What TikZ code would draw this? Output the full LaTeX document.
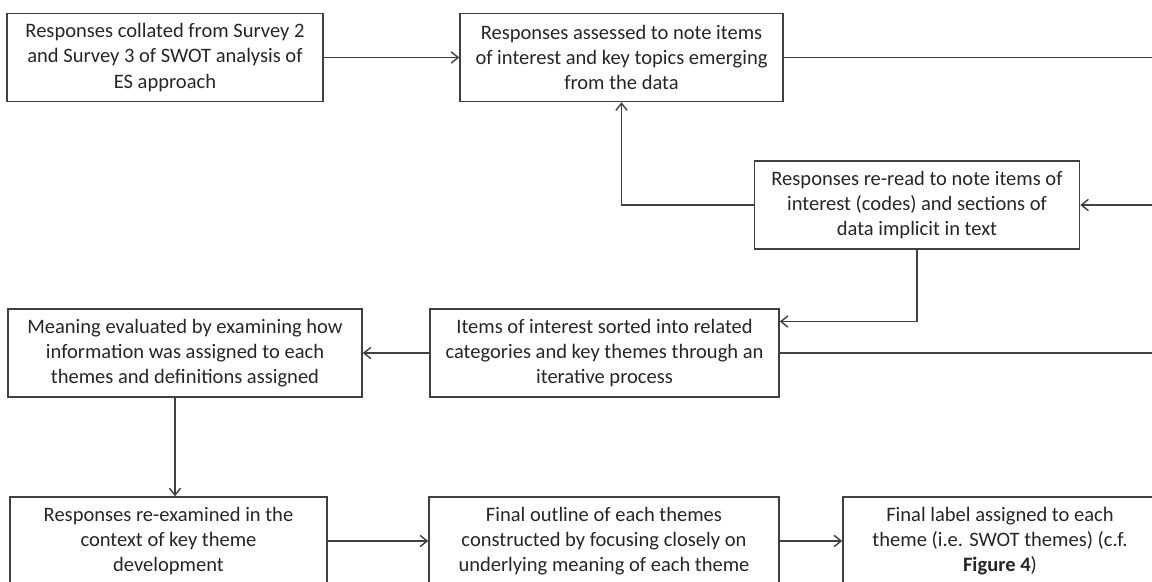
\documentclass[tikz,border=0pt]{standalone}
\usepackage{fontspec}
\setmainfont{Carlito}
\usepackage{tikz}
\usetikzlibrary{arrows.meta}

\begin{document}
\begin{tikzpicture}[
    x=0.025cm, y=-0.025cm,
    box/.style={
        draw=black!75,
        line width=1pt,
        align=center,
        inner sep=2pt,
        minimum height=2.2cm,
        text=black!85,
        font=\fontsize{14.6}{17.8}\selectfont
    },
    link/.style={
        draw=black!75,
        line width=1pt
    },
    arrow/.style={
        link,
        -{Straight Barb[length=5pt,width=8pt]}
    }
]
\useasboundingbox (0,0) rectangle (1152,581);
\clip (0,0) rectangle (1152,581);

% top row
\node[box, minimum width=7.9cm] (resp) at (165,57.5)
{Responses collated from Survey 2\\and Survey 3 of SWOT analysis of\\ES approach};

\node[box, minimum width=8.075cm] (assess) at (621.5,57.5)
{Responses assessed to note items\\of interest and key topics emerging\\from the data};

% re-reading
\node[box, minimum width=8.125cm] (reread) at (917,205)
{Responses re-read to note items of\\interest (codes) and sections of\\data implicit in text};

% middle row
\node[box, minimum width=8.85cm] (meaning) at (185,353)
{Meaning evaluated by examining how\\information was assigned to each\\themes and definitions assigned};

\node[box, minimum width=8.725cm] (items) at (604.5,353)
{Items of interest sorted into related\\categories and key themes through an\\iterative process};

% bottom row
\node[box, minimum width=7.925cm] (reexam) at (168.5,541)
{Responses re-examined in the\\context of key theme\\development};

\node[box, minimum width=8.75cm] (outline) at (604,541)
{Final outline of each themes\\constructed by focusing closely on\\underlying meaning of each theme};

\node[box, minimum width=7.85cm] (final) at (1000,541)
{Final label assigned to each\\theme (i.e. SWOT themes) (c.f.\\\textbf{Figure 4})};

% free ends at the right margin
\coordinate (out1) at (1170,57.5);
\coordinate (in2) at (1170,205);
\coordinate (out3) at (1170,353);

% Connections
\draw[arrow] (resp) -- (assess);
\draw[link] (assess.east) -- (out1);
\draw[arrow] (in2) -- (reread.east);
\draw[arrow] (reread.west) -| (assess.south);
\draw[arrow] (reread.south) |- ([yshift=-0.33cm]items.north east);
\draw[link] (items.east) -- (out3);
\draw[arrow] (items) -- (meaning);
\draw[arrow] ([xshift=-0.25cm]meaning.south) -- ([xshift=-0.25cm]meaning.south |- reexam.north);
\draw[arrow] (reexam) -- (outline);
\draw[arrow] (outline) -- (final);

\end{tikzpicture}
\end{document}
